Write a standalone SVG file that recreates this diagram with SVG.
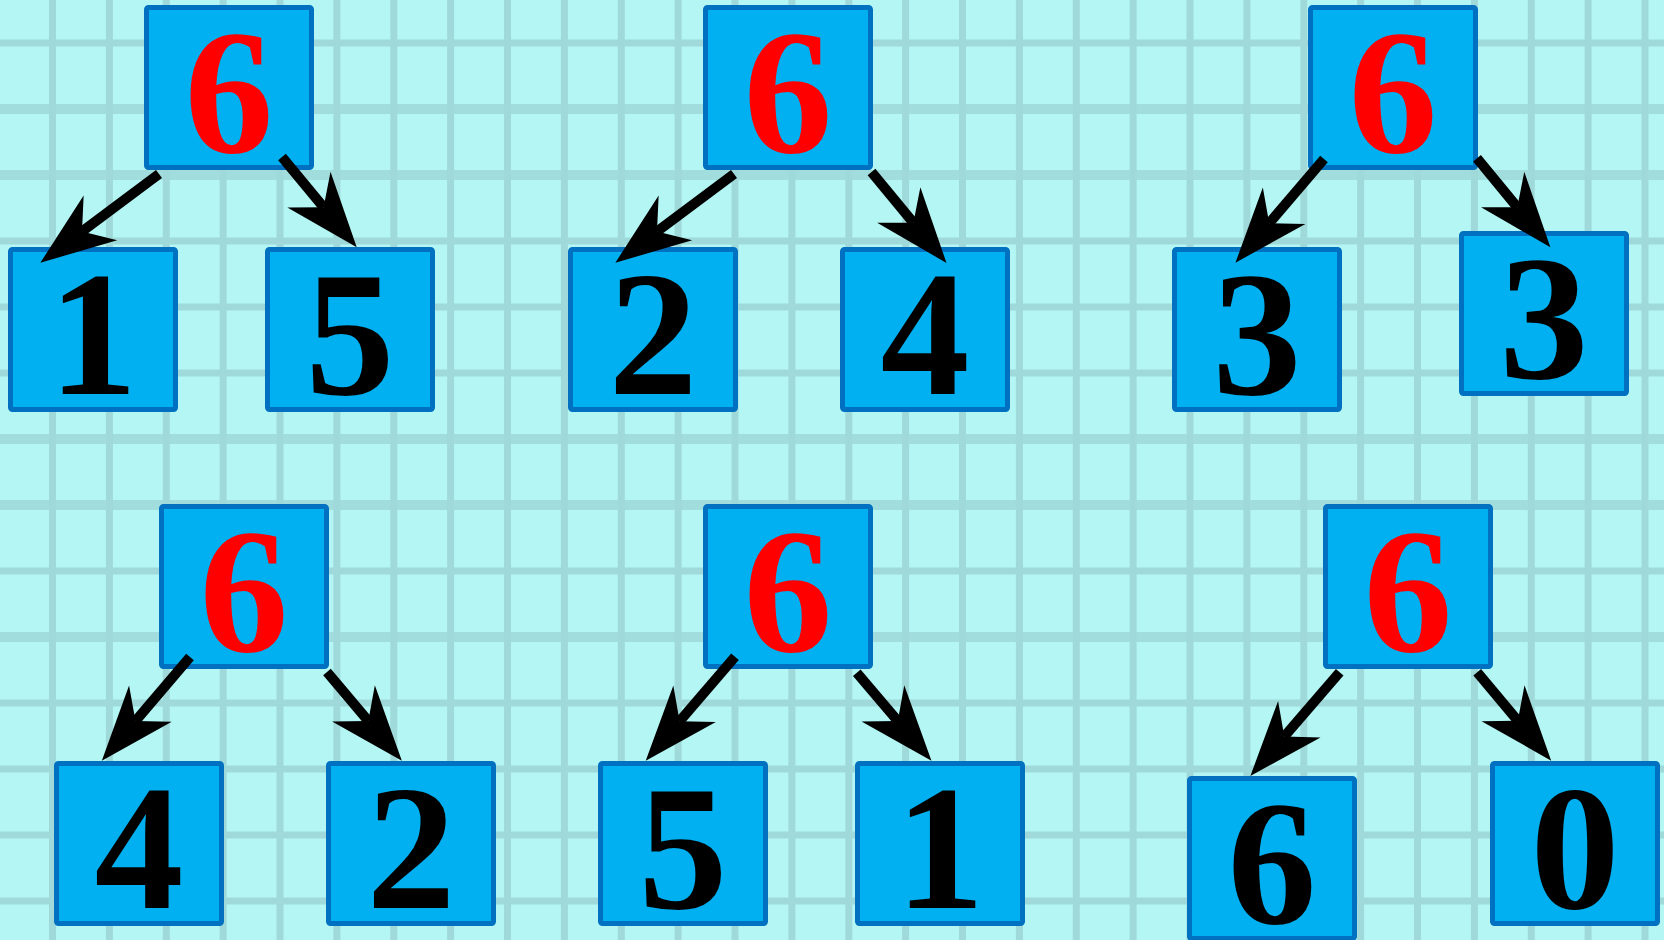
<svg xmlns="http://www.w3.org/2000/svg" width="1664" height="940" viewBox="0 0 1664 940">
<defs>
<style>
.bg{fill:#B3F6F4}
.gv{stroke:#A0D9D9;stroke-width:7}
.gt{stroke:#A0D9D9;stroke-width:10;opacity:0.85}
.box{fill:#00B0F0;stroke:#0070C0;stroke-width:5}
text{font-family:'Liberation Serif','Times New Roman',Times,Tinos,'Nimbus Roman','Nimbus Roman No9 L',FreeSerif,'Noto Serif',serif;font-weight:bold;font-size:178px;text-anchor:middle;fill:#000}
.root{fill:#FF0000}
.arr{stroke:#000;stroke-width:10;fill:none;marker-end:url(#head)}
</style>
<marker id="head" markerUnits="userSpaceOnUse" orient="auto" refX="0" refY="0" markerWidth="200" markerHeight="200" viewBox="-100 -100 200 200" overflow="visible">
<path d="M52,0 L-23,-28 L0,0 L-23,28 Z" fill="#000"/>
</marker>
</defs>
<rect class="bg" x="0" y="0" width="1664" height="940"/>
<g id="grid">
<path class="gv" d="M52.5,0V940M109.4,0V940M166.3,0V940M223.1,0V940M280,0V940M336.9,0V940M393.8,0V940M450.6,0V940M507.5,0V940M564.4,0V940M621.3,0V940M678.1,0V940M735,0V940M791.9,0V940M848.8,0V940M905.6,0V940M962.5,0V940M1019.4,0V940M1076.3,0V940M1133.1,0V940M1190,0V940M1246.9,0V940M1303.8,0V940M1360.6,0V940M1417.5,0V940M1474.4,0V940M1531.3,0V940M1588.1,0V940M1645,0V940"/>
<path class="gv" d="M0,43H1664M0,241H1664M0,307H1664M0,373H1664M0,571H1664M0,703H1664M0,769H1664M0,835H1664M0,901H1664"/>
<path class="gt" d="M0,109H1664M0,175H1664M0,439H1664M0,505H1664M0,637H1664"/>
</g>
<g id="t1-root"><rect class="box" x="146.5" y="7.5" width="165" height="160" rx="2"/><text class="root" x="229" y="152">6</text></g>
<g id="t1-left"><rect class="box" x="10.5" y="249.5" width="165" height="160" rx="2"/><text x="93" y="394">1</text></g>
<g id="t1-right"><rect class="box" x="267.5" y="249.5" width="165" height="160" rx="2"/><text x="350" y="394">5</text></g>
<g id="t2-root"><rect class="box" x="705.5" y="7.5" width="165" height="160" rx="2"/><text class="root" x="788" y="152">6</text></g>
<g id="t2-left"><rect class="box" x="570.5" y="249.5" width="165" height="160" rx="2"/><text x="653" y="394">2</text></g>
<g id="t2-right"><rect class="box" x="842.5" y="249.5" width="165" height="160" rx="2"/><text x="925" y="394">4</text></g>
<g id="t3-root"><rect class="box" x="1310.5" y="7.5" width="165" height="160" rx="2"/><text class="root" x="1393" y="152">6</text></g>
<g id="t3-left"><rect class="box" x="1174.5" y="249.5" width="165" height="160" rx="2"/><text x="1257" y="394">3</text></g>
<g id="t3-right"><rect class="box" x="1461.5" y="233.5" width="165" height="160" rx="2"/><text x="1544" y="378">3</text></g>
<g id="t4-root"><rect class="box" x="161.5" y="506.5" width="165" height="160" rx="2"/><text class="root" x="244" y="651">6</text></g>
<g id="t4-left"><rect class="box" x="56.5" y="763.5" width="165" height="160" rx="2"/><text x="139" y="908">4</text></g>
<g id="t4-right"><rect class="box" x="328.5" y="763.5" width="165" height="160" rx="2"/><text x="411" y="908">2</text></g>
<g id="t5-root"><rect class="box" x="705.5" y="506.5" width="165" height="160" rx="2"/><text class="root" x="788" y="651">6</text></g>
<g id="t5-left"><rect class="box" x="600.5" y="763.5" width="165" height="160" rx="2"/><text x="683" y="908">5</text></g>
<g id="t5-right"><rect class="box" x="857.5" y="763.5" width="165" height="160" rx="2"/><text x="940" y="908">1</text></g>
<g id="t6-root"><rect class="box" x="1325.5" y="506.5" width="165" height="160" rx="2"/><text class="root" x="1408" y="651">6</text></g>
<g id="t6-left"><rect class="box" x="1189.5" y="778.5" width="165" height="160" rx="2"/><text x="1272" y="923">6</text></g>
<g id="t6-right"><rect class="box" x="1492.5" y="763.5" width="165" height="160" rx="2"/><text x="1575" y="908">0</text></g>
<g id="connectors">
<path class="arr" d="M159,174L82,231.6"/>
<path class="arr" d="M282,157L323.6,207.3"/>
<path class="arr" d="M734,174L657,231.6"/>
<path class="arr" d="M871.5,172L913.4,222.8"/>
<path class="arr" d="M1324,159L1269.2,223.2"/>
<path class="arr" d="M1477,158.3L1517.3,207.2"/>
<path class="arr" d="M190,657L135.5,721.1"/>
<path class="arr" d="M327,672L368.3,720.9"/>
<path class="arr" d="M735,656.7L679.6,721.2"/>
<path class="arr" d="M856.8,672.7L897.8,721"/>
<path class="arr" d="M1339.7,672.3L1284.3,736.6"/>
<path class="arr" d="M1477.2,672.3L1517.8,720.8"/>
</g>
</svg>
